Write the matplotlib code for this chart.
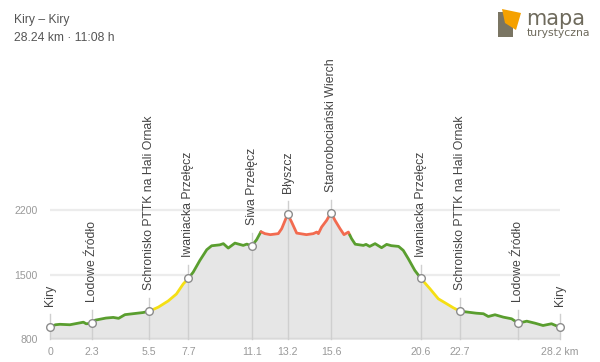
import numpy as np
import matplotlib
matplotlib.use("Agg")
import matplotlib.pyplot as plt
from matplotlib.patches import Polygon, Rectangle

plt.rcParams['font.family'] = ['Liberation Sans', 'DejaVu Sans']

# elevation profile (km, m)
dist = [0, 0.3, 0.55, 1.1, 1.5, 1.85, 2.0, 2.3, 2.5, 3.1, 3.5, 3.8, 4.15, 4.8, 5.15,
        5.5, 6.0, 6.55, 7.0, 7.38, 7.66, 7.93, 8.3, 8.68, 8.95, 9.4, 9.6, 9.87, 10.24,
        10.7, 10.9, 11.17, 11.44, 11.68, 11.9, 12.2, 12.64, 12.83, 13.16, 13.38, 13.66,
        14.2, 14.58, 14.77, 14.86, 15.04, 15.32, 15.56, 15.78, 16.06, 16.28, 16.52, 16.7,
        16.9, 17.35, 17.5, 17.7, 18.0, 18.36, 18.64, 18.9, 19.3, 19.56, 19.84, 20.2,
        20.54, 21.04, 21.5, 21.96, 22.33, 22.7, 23.16, 23.6, 24.0, 24.27, 24.64, 25.1,
        25.56, 25.93, 26.4, 26.86, 27.3, 27.77, 28.24]
elev = [928, 955, 960, 955, 970, 983, 966, 970, 1005, 1028, 1035, 1025, 1065, 1080, 1088,
        1103, 1147, 1215, 1290, 1400, 1459, 1528, 1656, 1772, 1815, 1825, 1838, 1790, 1844,
        1819, 1833, 1812, 1881, 1968, 1947, 1936, 1947, 2001, 2159, 2073, 1953,
        1936, 1947, 1964, 1947, 2019, 2092, 2176, 2092, 2001, 1936, 1964, 1892,
        1832, 1819, 1830, 1808, 1838, 1794, 1830, 1816, 1808, 1765, 1674, 1547,
        1459, 1347, 1238, 1184, 1140, 1103, 1092, 1081, 1075, 1045, 1064, 1038,
        1020, 972, 994, 972, 947, 966, 927]

# difficulty segments
seg_breaks = [0, 5.5, 7.66, 11.68, 16.6, 20.54, 22.7, 28.24]
seg_colors = ['#5a9e2f', '#f5df14', '#5a9e2f', '#f26b50', '#5a9e2f', '#f5df14', '#5a9e2f']

# waypoints
wp_names = ['Kiry', 'Lodowe Źródło', 'Schronisko PTTK na Hali Ornak', 'Iwaniacka Przełęcz',
            'Siwa Przełęcz', 'Błyszcz', 'Starorobociański Wierch', 'Iwaniacka Przełęcz',
            'Schronisko PTTK na Hali Ornak', 'Lodowe Źródło', 'Kiry']
wp_km = [0, 2.3, 5.5, 7.66, 11.17, 13.16, 15.56, 20.54, 22.7, 25.93, 28.24]

tick_pos = [0, 2.3, 5.5, 7.66, 11.17, 13.16, 15.56, 20.54, 22.7, 28.24]
tick_labels = ['0', '2.3', '5.5', '7.7', '11.1', '13.2', '15.6', '20.6', '22.7', '28.2 km']
y_ticks = [800, 1500, 2200]

W, H = 600, 362
fig = plt.figure(figsize=(W / 100, H / 100), dpi=100)
fig.patch.set_facecolor('white')

left, right, bottom, top = 50, 560, 339, 200
ax = fig.add_axes([left / W, (H - bottom) / H, (right - left) / W, (bottom - top) / H])
mpp = 700 / 64.3
ax.set_xlim(0, 28.24)
ax.set_ylim(800, 800 + (bottom - top) * mpp)

d = np.array(dist)
e = np.array(elev)
ax.fill_between(d, e, 700, color='#e6e6e6', lw=0, zorder=1)

for yv in y_ticks[1:]:
    ax.axhline(yv, color='#ececec', lw=1.6, zorder=0.5)
ax.axhline(800, color='#d9d9d9', lw=2.5, zorder=2)

for a, b, c in zip(seg_breaks[:-1], seg_breaks[1:], seg_colors):
    xs = np.concatenate([[a], d[(d > a) & (d < b)], [b]])
    ax.plot(xs, np.interp(xs, d, e), color=c, lw=2.0, solid_capstyle='round',
            solid_joinstyle='round', zorder=3)

for name, km in zip(wp_names, wp_km):
    h = np.interp(km, d, e)
    ax.plot([km, km], [800, h + 13 * mpp], color='#cfcfcf', lw=1.0, zorder=2, clip_on=False)
    ax.plot(km, h, 'o', ms=5.5, mfc='white', mec='#8c8c8c', mew=1.0, zorder=5, clip_on=False)
    ax.annotate(name, xy=(km, h), xytext=(0, 21), textcoords='offset pixels',
                rotation=90, ha='center', va='bottom', fontsize=8.8, color='#444444',
                annotation_clip=False)

ax.set_xticks(tick_pos)
ax.set_xticklabels(tick_labels, fontsize=7.6, color='#999999')
ax.set_yticks(y_ticks)
ax.set_yticklabels([str(v) for v in y_ticks], fontsize=7.6, color='#999999')
ax.tick_params(length=0, axis='x', pad=6)
ax.tick_params(length=0, axis='y', pad=9)
for s in ax.spines.values():
    s.set_visible(False)
ax.patch.set_alpha(0)

# header overlay in pixel coordinates
ov = fig.add_axes([0, 0, 1, 1], zorder=-1)
ov.set_xlim(0, W)
ov.set_ylim(H, 0)
ov.axis('off')
ov.text(14, 20, 'Kiry – Kiry', fontsize=8.7, color='#555555', va='center')
ov.text(14, 38, '28.24 km · 11:08 h', fontsize=8.7, color='#555555', va='center')

ov.add_patch(Rectangle((498, 12), 15, 25, color='#7a7563', lw=0))
ov.add_patch(Polygon([(502, 9), (521, 13), (516, 30), (505, 23)], color='#f5a100', lw=0))
ov.text(526, 25, 'mapa', fontsize=15, color='#6e6a5c', va='baseline', ha='left',
        family='DejaVu Sans')
ov.text(527, 36, 'turystyczna', fontsize=7.8, color='#6e6a5c', va='baseline', ha='left',
        family='DejaVu Sans')

fig.savefig('out.png', dpi=100)
